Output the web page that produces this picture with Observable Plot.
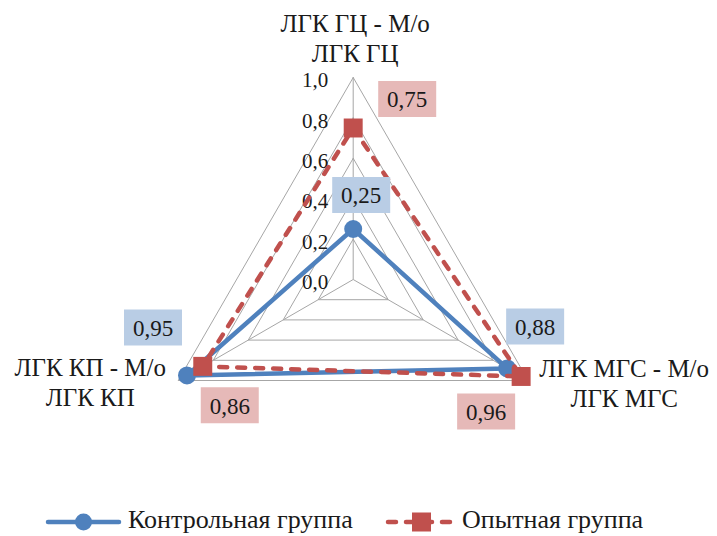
<!DOCTYPE html>
<html>
<head>
<meta charset="utf-8">
<script src="https://cdn.jsdelivr.net/npm/d3@7"></script>
<script src="https://cdn.jsdelivr.net/npm/@observablehq/plot@0.6"></script>
<style>
  body { margin: 0; background: #fff; }
  #chart { width: 717px; }
  #legend { position: relative; width: 717px; height: 36px;
    font-family: "Liberation Serif", "DejaVu Serif", "Times New Roman", serif; font-size: 26px; color: #1a1a1a; }
  #legend .item { position: absolute; top: 0; height: 36px; }
  #legend span { position: absolute; top: 5px; line-height: 30px; white-space: nowrap; }
  #chart svg text { font-family: "Liberation Serif", "DejaVu Serif", "Times New Roman", serif; }
</style>
</head>
<body>
<div id="chart"></div>
<div id="legend"></div>
<script>
// Radar chart categories, clockwise from the top
const categories = ["ЛГК ГЦ - М/о\nЛГК ГЦ", "ЛГК МГС - М/о\nЛГК МГС", "ЛГК КП - М/о\nЛГК КП"];
const seriesNames = ["Контрольная группа", "Опытная группа"];
const controlValues = [0.25, 0.88, 0.95];
const experimentalValues = [0.75, 0.96, 0.86];
const tickValues = [0, 0.2, 0.4, 0.6, 0.8, 1.0];

// Data-label placement (pixel offsets from each point): top, right, left
const controlLabelOffsets = [[8, -34], [28, -42], [-34, -48]];
const experimentalLabelOffsets = [[54, -29], [-35, 35], [27, 39]];

const W = 717, H = 500;
const R = 202, CX = 352.7, CY = 279; // radius of 1.0 and centre, in px
const BLUE = "#4f81bd", RED = "#c0504d", GRID = "#a6a6a6";
const FONT = "Liberation Serif, DejaVu Serif, Times New Roman, serif";

const angle = i => i * 2 * Math.PI / categories.length;
const polar = (v, i) => ({x: v * Math.sin(angle(i)), y: v * Math.cos(angle(i))});
const comma = v => d3.format(".2f")(v).replace(".", ",");
const tickFmt = v => d3.format(".1f")(v).replace(".", ",");

const closed = vals => [...vals, vals[0]].map((v, k) => ({value: v, ...polar(v, k % vals.length)}));
const points = vals => vals.map((v, i) => ({value: v, ...polar(v, i)}));

const rings = tickValues.filter(t => t > 0)
  .flatMap(t => [0, 1, 2, 0].map(i => ({level: t, ...polar(t, i)})));
const spokes = categories.map((c, i) => ({name: c, ...polar(1, i)}));

// Rectangular background behind the data labels
const boxSymbol = {draw(ctx) { ctx.rect(-29, -18, 58, 36); }};

function labelMarks(vals, offsets, boxFill) {
  return vals.flatMap((v, i) => {
    const d = [{value: v, ...polar(v, i)}];
    const [dx, dy] = offsets[i];
    return [
      Plot.dot(d, {x: "x", y: "y", dx, dy, symbol: boxSymbol, r: 10, fill: boxFill, stroke: null}),
      Plot.text(d, {x: "x", y: "y", dx, dy: dy + 1, text: e => comma(e.value), fontSize: 23,
        fontFamily: FONT, fill: "#1a1a1a", textAnchor: "middle"})
    ];
  });
}

const axisLabelOffsets = [[2, -40], [96, 2], [-88, 1]];

const chart = Plot.plot({
  width: W, height: H,
  marginTop: 0, marginRight: 0, marginBottom: 0, marginLeft: 0,
  x: {domain: [-CX / R, (W - CX) / R], range: [0, W], axis: null},
  y: {domain: [-(H - CY) / R, CY / R], range: [H, 0], axis: null},
  style: {background: "#fff", fontFamily: FONT},
  marks: [
    Plot.line(rings, {x: "x", y: "y", z: "level", stroke: GRID, strokeWidth: 1}),
    Plot.link(spokes, {x1: () => 0, y1: () => 0, x2: "x", y2: "y", stroke: GRID, strokeWidth: 1}),
    Plot.text(tickValues, {x: () => 0, y: d => d, text: tickFmt, textAnchor: "end", dx: -25, dy: 3,
      fontSize: 21, fontFamily: FONT, fill: "#1a1a1a"}),
    Plot.line(closed(controlValues), {x: "x", y: "y", stroke: BLUE, strokeWidth: 4.5, strokeLinejoin: "round"}),
    Plot.dot(points(controlValues), {x: "x", y: "y", r: 9, fill: BLUE, stroke: null}),
    Plot.line(closed(experimentalValues), {x: "x", y: "y", stroke: RED, strokeWidth: 4.5,
      strokeDasharray: "8,10", strokeLinecap: "round", strokeLinejoin: "round"}),
    Plot.dot(points(experimentalValues), {x: "x", y: "y", symbol: "square", r: 10.7, fill: RED, stroke: null}),
    ...labelMarks(controlValues, controlLabelOffsets, "#b9cde5"),
    ...labelMarks(experimentalValues, experimentalLabelOffsets, "#e6b9b8"),
    ...spokes.map((s, i) => Plot.text([s], {x: "x", y: "y", text: "name", dx: axisLabelOffsets[i][0],
      dy: axisLabelOffsets[i][1], fontSize: 25, lineHeight: 1.2, fontFamily: FONT, fill: "#1a1a1a",
      textAnchor: "middle"}))
  ]
});
document.getElementById("chart").appendChild(chart);

// Legend below the chart
const legend = d3.select("#legend");
const items = [
  {name: seriesNames[0], color: BLUE, left: 45, width: 77, dash: null, marker: "circle", textLeft: 128},
  {name: seriesNames[1], color: RED, left: 385, width: 73, dash: "8,10", marker: "square", textLeft: 462}
];
for (const it of items) {
  const svg = legend.append("svg").attr("class", "item")
    .style("left", it.left + "px").attr("width", it.width).attr("height", 36);
  svg.append("line").attr("x1", 3).attr("x2", it.width - 3).attr("y1", 22).attr("y2", 22)
    .attr("stroke", it.color).attr("stroke-width", 4.5).attr("stroke-linecap", "round")
    .attr("stroke-dasharray", it.dash);
  if (it.marker === "circle") {
    svg.append("circle").attr("cx", it.width / 2).attr("cy", 22).attr("r", 8.5).attr("fill", it.color);
  } else {
    svg.append("rect").attr("x", it.width / 2 - 9.5).attr("y", 12.5).attr("width", 19).attr("height", 19)
      .attr("fill", it.color);
  }
  legend.append("span").style("left", it.textLeft + "px").text(it.name);
}
</script>
</body>
</html>
